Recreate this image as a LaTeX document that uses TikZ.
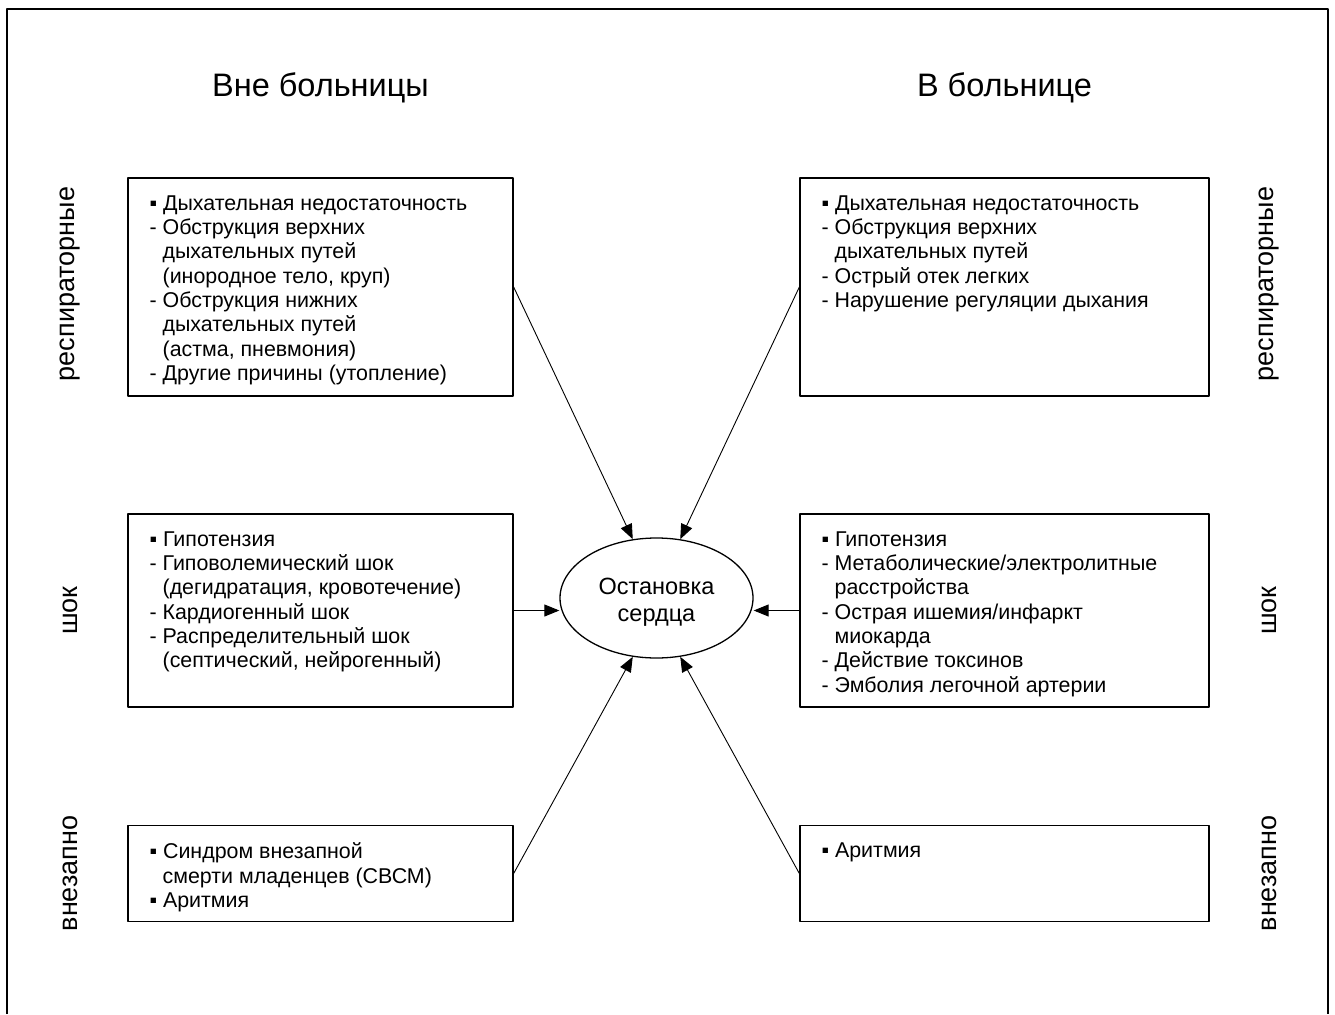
\documentclass[tikz,border=0pt]{standalone}
\usepackage{fontspec}
\setmainfont{Liberation Sans}
\usetikzlibrary{arrows.meta,shapes.geometric}
\newcommand\ind{\hphantom{- }}
\begin{document}
\begin{tikzpicture}[x=1pt, y=-1pt, line join=round, >={Triangle[length=15pt,width=12pt]},
	cbox/.style={draw, line width=1.3pt, inner sep=0pt},
	ctext/.style={anchor=north west, inner sep=0pt, align=left, font=\fontsize{21.4}{24.3}\selectfont},
	side/.style={rotate=90, font=\fontsize{27}{30}\selectfont},
	head/.style={font=\fontsize{32.5}{36}\selectfont},
	link/.style={->, line width=0.9pt}]
	\useasboundingbox (0,0) rectangle (1335,1014);
	\draw[line width=1.5pt] (7,1014) -- (7,9) -- (1328,9) -- (1328,1014);
	\node[head] (out) at (320.5,88) {Вне больницы};
	\node[head] (in) at (1004.5,88) {В больнице};
	\foreach \n/\x/\w in {l/320.5/385, r/1004.5/409}{
		\node[cbox, minimum width=\w, minimum height=218] (\n1) at (\x,287) {};
		\node[cbox, minimum width=\w, minimum height=193] (\n2) at (\x,610.5) {};
		\node[cbox, minimum width=\w, minimum height=96] (\n3) at (\x,873.5) {};
	}
	\foreach \t/\y/\k in {респираторные/284/1, шок/610.5/2, внезапно/873.5/3}{
		\node[side] (sl\k) at (70,\y) {\t};
		\node[side] (sr\k) at (1269,\y) {\t};
	}
	\node[ctext] (tl1) at ([shift={(22,18)}]l1.north west) {▪ Дыхательная недостаточность\\- Обструкция верхних\\\ind дыхательных путей\\\ind (инородное тело, круп)\\- Обструкция нижних\\\ind дыхательных путей\\\ind (астма, пневмония)\\- Другие причины (утопление)};
	\node[ctext] (tr1) at ([shift={(22,18)}]r1.north west) {▪ Дыхательная недостаточность\\- Обструкция верхних\\\ind дыхательных путей\\- Острый отек легких\\- Нарушение регуляции дыхания};
	\node[ctext] (tl2) at ([shift={(22,18)}]l2.north west) {▪ Гипотензия\\- Гиповолемический шок\\\ind (дегидратация, кровотечение)\\- Кардиогенный шок\\- Распределительный шок\\\ind (септический, нейрогенный)};
	\node[ctext] (tr2) at ([shift={(22,18)}]r2.north west) {▪ Гипотензия\\- Метаболические/электролитные\\\ind расстройства\\- Острая ишемия/инфаркт\\\ind миокарда\\- Действие токсинов\\- Эмболия легочной артерии};
	\node[ctext] (tl3) at ([shift={(22,18)}]l3.north west) {▪ Синдром внезапной\\\ind смерти младенцев (СВСМ)\\▪ Аритмия};
	\node[ctext] (tr3) at ([shift={(22,18)}]r3.north west) {▪ Аритмия};
	\node[draw, ellipse, line width=1.3pt, minimum width=193, minimum height=120, inner sep=0pt, align=center, font=\fontsize{23.5}{27}\selectfont] (arrest) at (656.5,598) {\rule{0pt}{24pt}Остановка\\сердца};
	\foreach \a/\s/\b in {l1/east/112, r1/west/68, l3/east/248, r3/west/292}{
		\draw[link] (\a.\s) -- (arrest.\b);
	}
	\draw[link] (l2.east) -- (arrest.west |- l2.east);
	\draw[link] (r2.west) -- (arrest.east |- r2.west);
\end{tikzpicture}
\end{document}
